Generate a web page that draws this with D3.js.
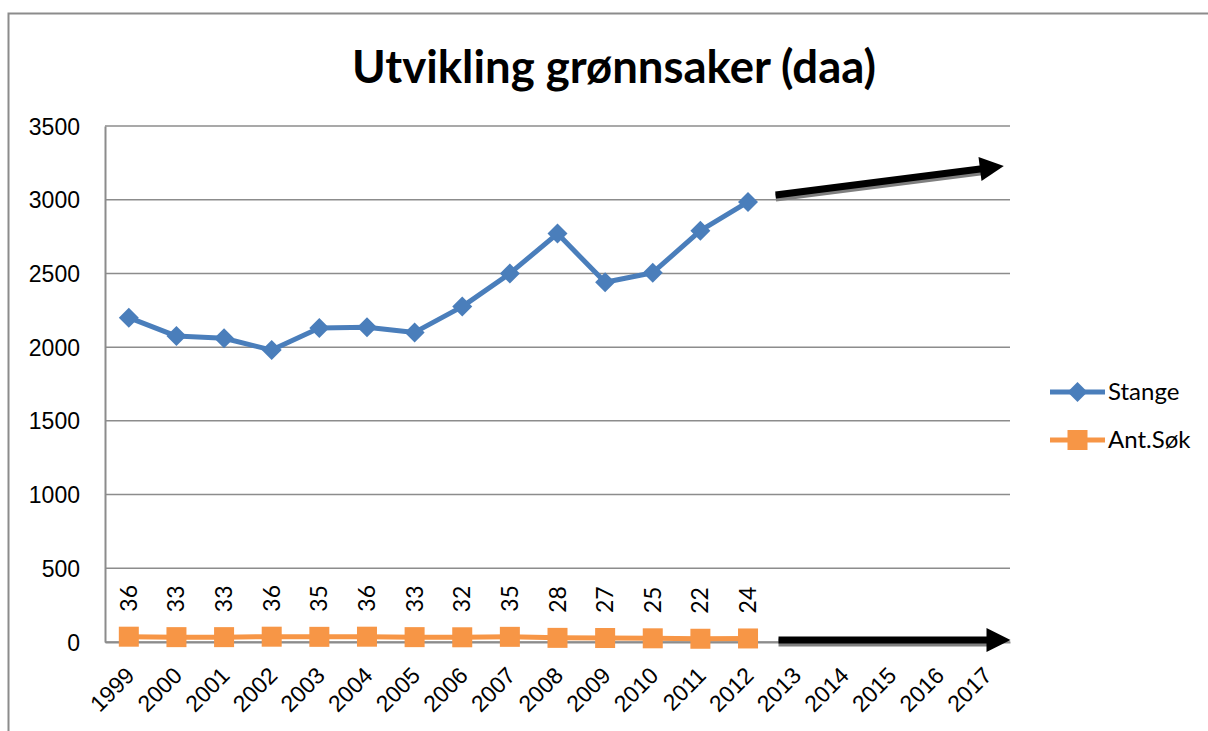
<!DOCTYPE html>
<html>
<head>
<meta charset="utf-8">
<script src="https://cdn.jsdelivr.net/npm/d3@7"></script>
<style>
  body { margin: 0; background: #fff; }
  svg { font-family: Lato, "Open Sans", sans-serif; }
</style>
</head>
<body>
<div id="chart"></div>
<script>
// categories
const years = ["1999","2000","2001","2002","2003","2004","2005","2006","2007","2008",
  "2009","2010","2011","2012","2013","2014","2015","2016","2017"];
// series
const stange = [2200, 2075, 2060, 1980, 2130, 2135, 2100, 2275, 2500, 2770, 2440, 2505, 2790, 2985];
const antSok = [36, 33, 33, 36, 35, 36, 33, 32, 35, 28, 27, 25, 22, 24];
const yTicks = [0, 500, 1000, 1500, 2000, 2500, 3000, 3500];
// trend arrows, in (year index, value)
const arrows = [
  { from: [13.58, 3032], to: [18.37, 3229] },
  { from: [13.64, 14], to: [18.51, 14] }
];

const W = 1208, H = 731;
const margin = { top: 126, right: 198, bottom: 89, left: 105 };
const width = W - margin.left - margin.right,
  height = H - margin.top - margin.bottom;

const root = d3.select("#chart").append("svg")
  .attr("width", W).attr("height", H);

// outer chart border
root.append("rect")
  .attr("x", 8.5).attr("y", 13.5)
  .attr("width", W).attr("height", H)
  .attr("fill", "none").attr("stroke", "#8c8c8c").attr("stroke-width", 2);

root.append("text")
  .attr("x", 614).attr("y", 83)
  .attr("text-anchor", "middle")
  .style("font-size", "45.5px").style("font-weight", "bold")
  .text("Utvikling grønnsaker (daa)");

const svg = root.append("g")
  .attr("transform", "translate(" + margin.left + "," + margin.top + ")");

const x = d3.scaleBand().domain(years).range([0, width]);
const xi = d3.scaleLinear().domain([-0.5, years.length - 0.5]).range([0, width]);
const y = d3.scaleLinear().domain([0, 3500]).range([height, 0]);

// gridlines
svg.append("g")
  .selectAll("line").data(yTicks).enter().append("line")
  .attr("x1", 0).attr("x2", width)
  .attr("y1", (d) => y(d)).attr("y2", (d) => y(d))
  .style("stroke", "#8c8c8c").style("stroke-width", 1.5);

// y axis
const yAxis = svg.append("g")
  .call(d3.axisLeft(y).tickValues(yTicks).tickFormat(d3.format("d")).tickSize(0).tickPadding(25));
yAxis.select(".domain").style("stroke", "#8c8c8c").style("stroke-width", 2);
yAxis.selectAll("text").style("font-size", "23px").style("fill", "#000")
  .attr("dy", "0.35em");

// x axis
const xAxis = svg.append("g")
  .attr("transform", "translate(0," + height + ")")
  .call(d3.axisBottom(x).tickSize(0).tickPadding(0));
xAxis.select(".domain").style("stroke", "#8c8c8c").style("stroke-width", 2);
xAxis.selectAll("text")
  .style("font-size", "23px").style("fill", "#000")
  .attr("text-anchor", "end")
  .attr("dy", null)
  .attr("transform", "translate(7,35) rotate(-45)");

const cx = (i) => x(years[i]) + x.bandwidth() / 2;

const line = d3.line()
  .x((d, i) => cx(i))
  .y((d) => y(d));

// Stange
svg.append("path")
  .datum(stange)
  .attr("d", line)
  .attr("fill", "none")
  .attr("stroke", "#4a7ebb")
  .attr("stroke-width", 5)
  .attr("stroke-linejoin", "round");

svg.selectAll(".stangeDot").data(stange).enter().append("path")
  .attr("class", "stangeDot")
  .attr("transform", (d, i) => "translate(" + cx(i) + "," + y(d) + ") rotate(45)")
  .attr("d", d3.symbol().type(d3.symbolSquare).size(200))
  .attr("fill", "#4a7ebb");

// Ant.Søk
svg.append("path")
  .datum(antSok)
  .attr("d", line)
  .attr("fill", "none")
  .attr("stroke", "#f79646")
  .attr("stroke-width", 5);

svg.selectAll(".sokDot").data(antSok).enter().append("rect")
  .attr("class", "sokDot")
  .attr("x", (d, i) => cx(i) - 10)
  .attr("y", (d) => y(d) - 10)
  .attr("width", 20).attr("height", 20)
  .attr("fill", "#f79646");

svg.selectAll(".sokLabel").data(antSok).enter().append("text")
  .attr("class", "sokLabel")
  .attr("transform", (d, i) => "translate(" + (cx(i) + 8) + "," + (y(d) - 25) + ") rotate(-90)")
  .attr("text-anchor", "start")
  .style("font-size", "23px")
  .text((d) => d);

// trend arrows: grey shadow shaft, black shaft, black head
const ag = svg.append("g");
arrows.forEach((a) => {
  const x1 = xi(a.from[0]), y1 = y(a.from[1]);
  const x2 = xi(a.to[0]), y2 = y(a.to[1]);
  const len = Math.hypot(x2 - x1, y2 - y1);
  const ux = (x2 - x1) / len, uy = (y2 - y1) / len;
  const hl = 24, hw = 12;
  const bx = x2 - ux * hl, by = y2 - uy * hl;
  ag.append("line")
    .attr("x1", x1).attr("y1", y1 + 2.5)
    .attr("x2", bx + ux * 4).attr("y2", by + uy * 4 + 2.5)
    .attr("stroke", "#7f7f7f").attr("stroke-width", 8);
  ag.append("line")
    .attr("x1", x1).attr("y1", y1)
    .attr("x2", bx + ux * 4).attr("y2", by + uy * 4)
    .attr("stroke", "#000").attr("stroke-width", 7);
  ag.append("path")
    .attr("d", "M" + x2 + "," + y2 +
      "L" + (bx - uy * hw) + "," + (by + ux * hw) +
      "L" + (bx + uy * hw) + "," + (by - ux * hw) + "Z")
    .attr("fill", "#000");
});

// legend
const legend = root.append("g").attr("transform", "translate(1050,392)");
const items = [
  { name: "Stange", color: "#4a7ebb", shape: "diamond" },
  { name: "Ant.Søk", color: "#f79646", shape: "square" }
];
items.forEach((it, i) => {
  const g = legend.append("g").attr("transform", "translate(0," + i * 48 + ")");
  g.append("line").attr("x1", 0).attr("x2", 55).attr("y1", 0).attr("y2", 0)
    .attr("stroke", it.color).attr("stroke-width", 5);
  if (it.shape === "diamond") {
    g.append("path").attr("transform", "translate(27.5,0) rotate(45)")
      .attr("d", d3.symbol().type(d3.symbolSquare).size(200)).attr("fill", it.color);
  } else {
    g.append("rect").attr("x", 17.5).attr("y", -10).attr("width", 20).attr("height", 20)
      .attr("fill", it.color);
  }
  g.append("text").attr("x", 58).attr("y", 0).attr("dy", "0.35em")
    .style("font-size", "24px").text(it.name);
});
</script>
</body>
</html>
